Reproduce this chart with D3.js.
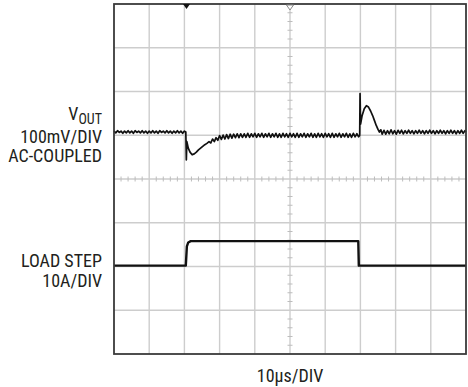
<!DOCTYPE html>
<html><head><meta charset="utf-8">
<script src="https://cdn.jsdelivr.net/npm/d3@7"></script>
<style>body{margin:0;background:#fff}svg{display:block}</style>
</head><body>
<svg id="c" width="468" height="387"></svg>
<script>
// ---- Data (time in µs, 10µs/div) ----
const xDivs = [0,10,20,30,40,50,60,70,80,90,100];
const yDivs = [-4,-3,-2,-1,0,1,2,3,4];
const timeLabel = "10µs/DIV";
const voutLabels = ["100mV/DIV","AC-COUPLED"];
const loadLabels = ["LOAD STEP","10A/DIV"];
const triggerTime = 20.6;
const voutPosDiv = 1.074;   // channel 1 position (div)
const loadPosDiv = -1.98;   // channel 2 position (div)
// VOUT, mV (AC-coupled)
const voutTrace = [
[0,2],[0.5,-2],[1,3],[1.5,-1],[2,2],[2.5,-3],[3,2],[3.5,-2],[4,3],[4.5,-2],[5,2],[5.5,-3],[6,3],[6.5,-1],[7,2],[7.5,-2],[8,3],[8.5,-2],[9,2],[9.5,-3],[10,2],[10.5,-2],[11,3],[11.5,-2],[12,2],[12.5,-3],[13,3],[13.5,-1],[14,2],[14.5,-2],[15,3],[15.5,-2],[16,2],[16.5,-3],[17,2],[17.5,-2],[18,3],[18.5,-2],[19,2],[19.5,-3],[20,2],
[20.4,0],[20.55,-64],[20.7,-22],[21.1,-37],[21.6,-46],[22.2,-52],[22.8,-50],[23.4,-46],[24,-41],[24.6,-37],[25.2,-33],[25.8,-29],[26.4,-26],[27,-22],[27.5,-25],[28,-16],[28.5,-22],[29,-13],[29.5,-19],
[30,-8],[30.5,-17],[31,-7],[31.5,-16],[32,-6],[32.5,-15],[33,-5],[33.5,-14],[34,-5],[34.5,-13],[35,-4],[35.5,-13],[36,-4],[36.5,-12],[37,-4],[37.5,-12],[38,-3],[38.5,-12],[39,-4],[39.5,-11],[40,-3],[40.5,-12],[41,-4],[41.5,-11],[42,-3],[42.5,-12],[43,-4],[43.5,-11],[44,-3],[44.5,-12],[45,-4],[45.5,-11],[46,-3],[46.5,-12],[47,-4],[47.5,-12],[48,-3],[48.5,-11],[49,-4],[49.5,-12],[50,-3],[50.5,-11],[51,-4],[51.5,-12],[52,-3],[52.5,-12],[53,-4],[53.5,-11],[54,-3],[54.5,-12],[55,-4],[55.5,-11],[56,-3],[56.5,-12],[57,-4],[57.5,-12],[58,-3],[58.5,-11],[59,-4],[59.5,-12],[60,-3],[60.5,-11],[61,-4],[61.5,-12],[62,-3],[62.5,-12],[63,-4],[63.5,-11],[64,-3],[64.5,-12],[65,-4],[65.5,-11],[66,-3],[66.5,-12],[67,-4],[67.5,-12],[68,-3],[68.5,-11],[69,-4],[69.5,-11],
[69.8,-8],[69.9,88],[70.05,18],[70.5,38],[71.1,53],[71.7,60],[72.3,57],[72.9,48],[73.5,37],[74,26],[74.5,15],[75,6],[75.4,0],[75.8,5],[76.2,-5],[76.7,4],[77.2,-5],[77.7,3],[78.2,-4],[78.7,5],[79.2,-4],[79.7,3],[80.2,-5],[80.7,4],[81.2,-3],[81.7,4],[82.2,-4],
[82.7,3],[83.2,-3],[83.7,4],[84.2,-3],[84.7,3],[85.2,-4],[85.7,3],[86.2,-3],[86.7,4],[87.2,-3],[87.7,3],[88.2,-4],[88.7,3],[89.2,-3],[89.7,4],[90.2,-3],[90.7,3],[91.2,-4],[91.7,3],[92.2,-3],[92.7,4],[93.2,-3],[93.7,3],[94.2,-4],[94.7,3],[95.2,-3],[95.7,4],[96.2,-3],[96.7,3],[97.2,-4],[97.7,3],[98.2,-3],[98.7,4],[99.2,-3],[99.7,3],[100,0]
];
// Load current, A
const loadTrace = [[0,0],[20.4,0],[20.7,4.4],[21.1,5.3],[21.8,5.6],[69.4,5.6],[69.55,0],[100,0]];

// ---- Drawing ----
const svg = d3.select("#c");
const L=114,R=466,T=4,B=354;
const x = d3.scaleLinear().domain([0,100]).range([L,R]);
const y = d3.scaleLinear().domain([-4,4]).range([B,T]);
const gridCol = "#cdcdcd";

const g = svg.append("g");
g.selectAll("line.vx").data(xDivs.slice(1,-1)).join("line")
  .attr("x1",d=>x(d)).attr("x2",d=>x(d)).attr("y1",T).attr("y2",B)
  .attr("stroke",gridCol).attr("stroke-width",1.4);
g.selectAll("line.hy").data(yDivs.slice(1,-1)).join("line")
  .attr("y1",d=>y(d)).attr("y2",d=>y(d)).attr("x1",L).attr("x2",R)
  .attr("stroke",gridCol).attr("stroke-width",1.4);

// minor ticks on center lines (5 per division)
const minorX = d3.range(0,100.01,2).filter(v=>v%10!==0);
const minorY = d3.range(-4,4.01,0.2).filter(v=>Math.abs(v-Math.round(v))>1e-6);
g.selectAll("line.mx").data(minorX).join("line")
  .attr("x1",d=>x(d)).attr("x2",d=>x(d)).attr("y1",y(0)-2.5).attr("y2",y(0)+2.5)
  .attr("stroke","#bdbdbd").attr("stroke-width",1);
g.selectAll("line.my").data(minorY).join("line")
  .attr("y1",d=>y(d)).attr("y2",d=>y(d)).attr("x1",x(50)-2.5).attr("x2",x(50)+2.5)
  .attr("stroke","#bdbdbd").attr("stroke-width",1);

// traces
const lineV = d3.line().x(d=>x(d[0])).y(d=>y(voutPosDiv + d[1]/100));
const lineL = d3.line().x(d=>x(d[0])).y(d=>y(loadPosDiv + d[1]/10));
svg.append("path").attr("d",lineV(voutTrace)).attr("fill","none")
  .attr("stroke","#111").attr("stroke-width",1.7).attr("stroke-linejoin","round");
svg.append("path").attr("d",lineL(loadTrace)).attr("fill","none")
  .attr("stroke","#111").attr("stroke-width",2.4).attr("stroke-linejoin","round");

// border
svg.append("rect").attr("x",L).attr("y",T).attr("width",R-L).attr("height",B-T)
  .attr("fill","none").attr("stroke","#3a3a3a").attr("stroke-width",1.8);

// markers
const tx = x(triggerTime);
svg.append("path").attr("d",`M${tx-3.5},${T} L${tx+3.5},${T} L${tx},${T+5} Z`).attr("fill","#111");
const cx = x(50);
svg.append("path").attr("d",`M${cx-3.5},${T+1} L${cx+3.5},${T+1} L${cx},${T+6} Z`)
  .attr("fill","#fff").attr("stroke","#888").attr("stroke-width",1);

// labels
const font = "'Liberation Sans Narrow','Arial Narrow','Roboto Condensed',sans-serif";
const txtCol = "#231f20";
const lab = svg.append("g").attr("font-family",font).attr("fill",txtCol).attr("font-size",18).attr("text-anchor","end");
const vt = lab.append("text").attr("x",102).attr("y",119.5);
vt.append("tspan").text("V");
vt.append("tspan").attr("font-size",14).attr("dy",4).text("OUT");
voutLabels.forEach((s,i)=>lab.append("text").attr("x",102).attr("y",142.5+i*19.5).text(s));
loadLabels.forEach((s,i)=>lab.append("text").attr("x",102).attr("y",267+i*19.5).text(s));
svg.append("text").attr("x",x(50)).attr("y",382).attr("text-anchor","middle")
  .attr("font-family",font).attr("font-size",18).attr("fill",txtCol).text(timeLabel);
</script>
</body></html>
